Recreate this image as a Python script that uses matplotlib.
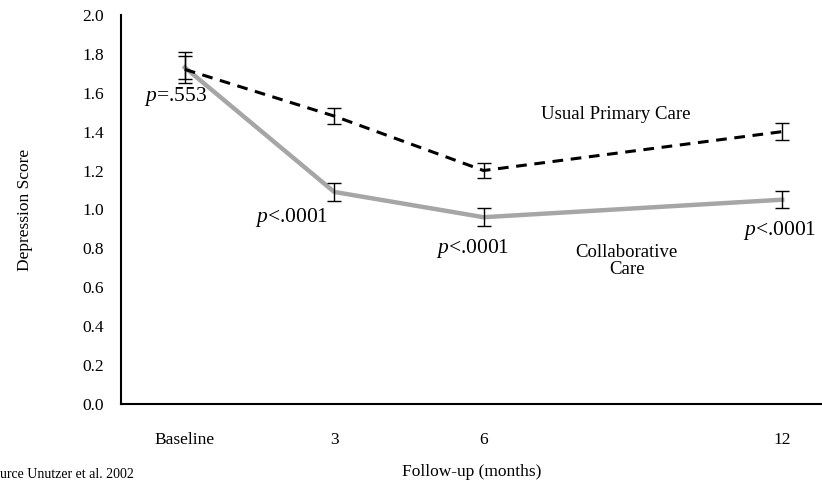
import numpy as np
import matplotlib.pyplot as plt

plt.rcParams['font.family'] = ['Liberation Serif', 'DejaVu Serif']
plt.rcParams['mathtext.fontset'] = 'custom'
plt.rcParams['mathtext.it'] = 'Liberation Serif:italic'
plt.rcParams['mathtext.rm'] = 'Liberation Serif'

# data
months = [0, 3, 6, 12]
tick_labels = ['Baseline', '3', '6', '12']
usual = [1.72, 1.48, 1.20, 1.40]
usual_lo = [0.07, 0.04, 0.04, 0.045]
usual_hi = [0.07, 0.04, 0.04, 0.045]
collab = [1.73, 1.09, 0.96, 1.05]
collab_lo = [0.06, 0.045, 0.045, 0.045]
collab_hi = [0.08, 0.045, 0.045, 0.045]
pvals = ['$\\it{p}$=.553', '$\\it{p}$<.0001', '$\\it{p}$<.0001', '$\\it{p}$<.0001']

fig = plt.figure(figsize=(8.22, 4.82), dpi=100)
ax = fig.add_axes([0.147, 0.162, 0.853, 0.807])

ax.plot(months, collab, color='#a6a6a6', lw=3.2, zorder=2)
ax.errorbar(months, collab, yerr=[collab_lo, collab_hi], fmt='none',
            ecolor='black', elinewidth=1, capsize=5, capthick=1, zorder=3)
ax.plot(months, usual, color='black', lw=2.2, ls=(0, (3.5, 2.5)), zorder=2)
ax.errorbar(months, usual, yerr=[usual_lo, usual_hi], fmt='none',
            ecolor='black', elinewidth=1, capsize=5, capthick=1, zorder=3)

# p-value labels
p_pos = [(-0.18, 1.58), (2.15, 0.96), (5.79, 0.80), (11.95, 0.89)]
for (x, y), t in zip(p_pos, pvals):
    ax.text(x, y, t, fontsize=15.5, ha='center', va='center')

ax.text(8.66, 1.49, 'Usual Primary Care', fontsize=13.5, ha='center', va='center')
ax.text(8.88, 0.735, 'Collaborative\nCare', fontsize=13.5, ha='center', va='center',
        linespacing=1.0)

ax.set_xlim(-1.286, 12.80)
ax.set_ylim(0, 2.0)
ax.set_xticks(months)
ax.set_xticklabels(tick_labels, fontsize=12.5)
ax.set_yticks(np.arange(0, 2.01, 0.2))
ax.set_yticklabels(['%.1f' % v for v in np.arange(0, 2.01, 0.2)], fontsize=12.5)
ax.tick_params(axis='x', length=0, pad=20)
ax.tick_params(axis='y', length=0, pad=12)
ax.spines['top'].set_visible(False)
ax.spines['right'].set_visible(False)
ax.spines['left'].set_linewidth(1.5)
ax.spines['bottom'].set_linewidth(1.5)

ax.set_xlabel('Follow-up (months)', fontsize=12.5, labelpad=12)
fig.text(0.03, 0.565, 'Depression Score', fontsize=12.5, rotation=90,
         ha='center', va='center')
fig.text(0.0, 0.002, 'urce Unutzer et al. 2002', fontsize=10, ha='left', va='bottom')

fig.savefig('out.png', dpi=100)
